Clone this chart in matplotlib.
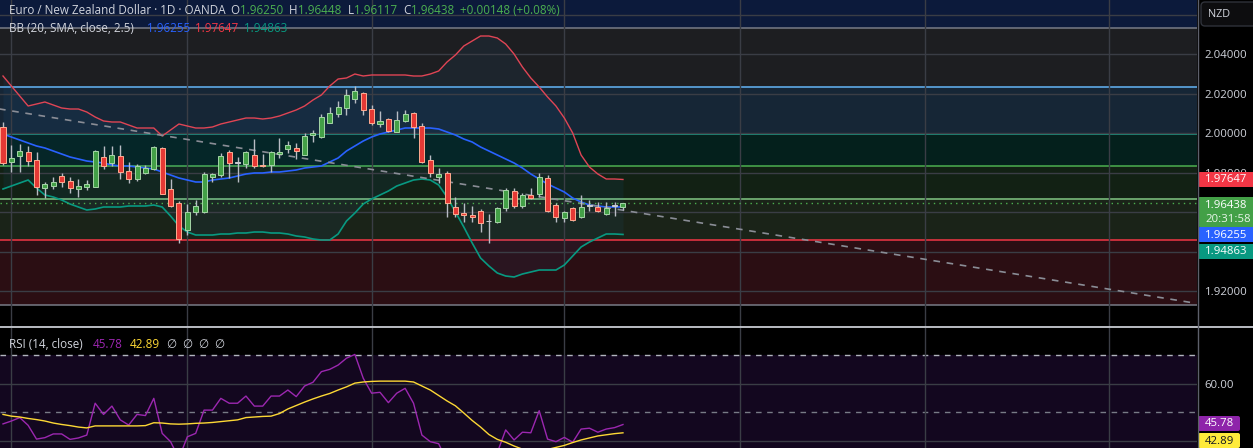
import matplotlib
matplotlib.use("Agg")
import matplotlib.pyplot as plt
from matplotlib.patches import Rectangle, FancyBboxPatch
import numpy as np

plt.rcParams['font.family'] = ['Open Sans', 'DejaVu Sans']

# ---------------- data ----------------
opens = [2.00320, 1.98548, 1.98852, 1.99055, 1.98633, 1.97198, 1.97333, 1.97806, 1.97570, 1.97148,
         1.97283, 1.97283, 1.98768, 1.98464, 1.98835, 1.98076, 1.97671, 1.97958, 1.98194, 1.99240,
         1.97165, 1.96439, 1.95089, 1.96017, 1.96000, 1.97789, 1.97873, 1.99055, 1.98490, 1.98413,
         1.98869, 1.98380, 1.98380, 1.98937, 1.99173, 1.99224, 1.98903, 1.99899, 1.99781, 2.00523,
         2.00962, 2.01283, 2.01722, 2.02042, 2.01198, 2.00473, 2.00709, 2.00068, 2.00624, 2.00996,
         2.00354, 1.98633, 1.97789, 1.97958, 1.96270, 1.95932, 1.95848, 1.96051, 1.95520, 1.95510,
         1.96186, 1.97063, 1.96321, 1.96861, 1.96894, 1.97705, 1.96354, 1.95679, 1.96186, 1.95730,
         1.96295, 1.96236, 1.95882, 1.96295, 1.96250]
highs = [2.00574, 1.99392, 1.99443, 1.99359, 1.99055, 1.97536, 1.97755, 1.97958, 1.97789, 1.97654,
         1.97620, 1.99139, 1.99342, 1.99342, 1.99376, 1.98532, 1.98413, 1.98380, 1.99342, 1.99274,
         1.97671, 1.96540, 1.96405, 1.96608, 1.98025, 1.97992, 1.99004, 1.99139, 1.98768, 1.99105,
         1.99679, 1.98937, 1.99089, 1.99730, 1.99612, 1.99511, 2.00000, 2.00152, 2.00962, 2.01333,
         2.01637, 2.02211, 2.02380, 2.02093, 2.01418, 2.01114, 2.00776, 2.01114, 2.01165, 2.01080,
         2.00523, 1.98886, 1.98211, 1.98093, 1.96776, 1.96439, 1.96321, 1.96135, 1.95899, 1.96270,
         1.97232, 1.97198, 1.96945, 1.97198, 1.97958, 1.97890, 1.96439, 1.96051, 1.96270, 1.96844,
         1.96608, 1.96523, 1.96490, 1.96523, 1.96448]
lows = [1.98380, 1.98042, 1.98042, 1.98329, 1.96861, 1.96692, 1.97165, 1.97249, 1.96945, 1.96776,
        1.97114, 1.97249, 1.98160, 1.98329, 1.97688, 1.97485, 1.97586, 1.97924, 1.98127, 1.96900,
        1.96270, 1.94447, 1.94835, 1.95848, 1.95966, 1.97536, 1.97755, 1.97738, 1.97536, 1.98211,
        1.98211, 1.98262, 1.98042, 1.98751, 1.98970, 1.98667, 1.98886, 1.99544, 1.99730, 2.00489,
        2.00793, 2.00911, 2.01536, 2.00911, 2.00405, 2.00321, 2.00068, 2.00034, 2.00540, 1.99730,
        1.98464, 1.97789, 1.97451, 1.95764, 1.95730, 1.95510, 1.95510, 1.95004, 1.94413, 1.95460,
        1.96051, 1.96186, 1.96219, 1.96675, 1.96776, 1.96017, 1.95510, 1.95510, 1.95561, 1.95679,
        1.96051, 1.96017, 1.95848, 1.95814, 1.96117]
closes = [1.98464, 1.98717, 1.99089, 1.98599, 1.97283, 1.97418, 1.97502, 1.97536, 1.97198, 1.97316,
          1.97418, 1.99089, 1.98346, 1.98886, 1.98042, 1.97688, 1.98329, 1.98211, 1.99274, 1.96928,
          1.96304, 1.94650, 1.96017, 1.96304, 1.97907, 1.97907, 1.98835, 1.98498, 1.98490, 1.99055,
          1.98346, 1.98329, 1.99038, 1.99055, 1.99392, 1.99105, 1.99848, 2.00017, 2.00793, 2.00996,
          2.01300, 2.01924, 2.02144, 2.01165, 2.00489, 2.00624, 2.00101, 2.00658, 2.00962, 2.00287,
          1.98548, 1.97992, 1.97907, 1.96473, 1.95899, 1.95831, 1.95730, 1.95426, 1.95520, 1.96186,
          1.97114, 1.96304, 1.96844, 1.96726, 1.97789, 1.96051, 1.95764, 1.95983, 1.95595, 1.96236,
          1.96295, 1.96051, 1.96219, 1.96295, 1.96438]

bb_upper = [2.02886, 2.02380, 2.01873, 2.01367, 2.01468, 2.01570, 2.01418, 2.01266, 2.01215, 2.01215,
            2.01063, 2.00810, 2.00608, 2.00557, 2.00557, 2.00405, 2.00253, 2.00253, 2.00253, 1.99848,
            2.00152, 2.00456, 2.00354, 2.00253, 2.00253, 2.00304, 2.00456, 2.00557, 2.00658, 2.00759,
            2.00759, 2.00709, 2.00759, 2.00861, 2.01013, 2.01165, 2.01367, 2.01671, 2.01924, 2.02380,
            2.02734, 2.02785, 2.02987, 2.02886, 2.02937, 2.02937, 2.02937, 2.02937, 2.02937, 2.02886,
            2.02886, 2.02987, 2.03139, 2.03595, 2.03949, 2.04405, 2.04658, 2.04911, 2.04911, 2.04810,
            2.04506, 2.04000, 2.03342, 2.02785, 2.02329, 2.01823, 2.01367, 2.00759, 2.00000, 1.98886,
            1.98278, 1.97924, 1.97671, 1.97671, 1.97647]
bb_basis = [1.99949, 1.99797, 1.99646, 1.99494, 1.99342, 1.99241, 1.99089, 1.98937, 1.98785, 1.98684,
            1.98582, 1.98532, 1.98481, 1.98380, 1.98329, 1.98329, 1.98278, 1.98228, 1.98177, 1.98025,
            1.97873, 1.97722, 1.97620, 1.97519, 1.97519, 1.97620, 1.97671, 1.97722, 1.97823, 1.97924,
            1.97975, 1.97975, 1.98025, 1.98025, 1.98076, 1.98127, 1.98228, 1.98278, 1.98329, 1.98532,
            1.98734, 1.99089, 1.99342, 1.99595, 1.99797, 1.99949, 2.00051, 2.00152, 2.00253, 2.00253,
            2.00253, 2.00253, 2.00203, 2.00051, 1.99899, 1.99696, 1.99544, 1.99291, 1.99089, 1.98886,
            1.98684, 1.98481, 1.98228, 1.97924, 1.97671, 1.97418, 1.97215, 1.97013, 1.96709, 1.96506,
            1.96354, 1.96304, 1.96253, 1.96253, 1.96255]
bb_lower = [1.97165, 1.97316, 1.97468, 1.97620, 1.97215, 1.96861, 1.96759, 1.96608, 1.96405, 1.96253,
            1.96101, 1.96152, 1.96253, 1.96253, 1.96253, 1.96304, 1.96304, 1.96304, 1.96354, 1.96253,
            1.95797, 1.95291, 1.94987, 1.94835, 1.94835, 1.94835, 1.94886, 1.94886, 1.94937, 1.94937,
            1.94987, 1.94987, 1.94937, 1.94937, 1.94886, 1.94785, 1.94734, 1.94633, 1.94582, 1.94582,
            1.94886, 1.95544, 1.95949, 1.96405, 1.96658, 1.96861, 1.97063, 1.97316, 1.97468, 1.97620,
            1.97671, 1.97620, 1.97367, 1.96759, 1.96000, 1.95241, 1.94430, 1.93671, 1.93266, 1.92911,
            1.92759, 1.92709, 1.92861, 1.92962, 1.93063, 1.93063, 1.93063, 1.93316, 1.93772, 1.94228,
            1.94481, 1.94684, 1.94886, 1.94886, 1.94863]

rsi = [46.0, 47.0, 48.2, 45.5, 40.7, 41.2, 42.5, 42.5, 40.6, 41.1,
       42.1, 53.2, 49.3, 52.2, 47.4, 45.6, 49.3, 48.9, 54.9, 42.7,
       39.8, 34.0, 41.5, 42.7, 50.8, 50.8, 54.9, 53.2, 53.2, 55.7,
       52.2, 52.2, 55.7, 55.7, 57.8, 55.5, 59.2, 60.5, 64.2, 65.0,
       66.5, 68.9, 70.2, 61.9, 56.7, 57.0, 53.4, 56.7, 58.4, 53.2,
       42.1, 39.8, 39.1, 33.0, 31.5, 31.0, 30.5, 29.0, 29.0, 36.0,
       43.9, 40.4, 43.1, 42.9, 50.6, 40.7, 39.8, 41.3, 39.6, 44.2,
       44.5, 43.1, 44.2, 44.7, 45.78]
rsi_ma = [49.3, 48.7, 48.4, 47.9, 47.5, 47.0, 46.3, 45.8, 45.4, 44.9,
          44.6, 45.3, 45.3, 45.3, 45.3, 45.3, 45.3, 45.4, 46.4, 46.3,
          46.0, 45.9, 46.0, 46.2, 46.3, 46.5, 46.8, 47.1, 47.4, 48.2,
          48.4, 48.6, 48.7, 49.6, 51.2, 52.4, 53.6, 54.7, 55.7, 56.6,
          57.8, 58.9, 60.2, 60.6, 60.8, 60.9, 60.9, 60.9, 60.9, 60.6,
          59.2, 57.8, 55.9, 54.0, 52.3, 49.8, 47.2, 44.9, 42.3, 40.6,
          39.6, 38.3, 37.2, 36.9, 36.9, 37.1, 37.8, 38.5, 39.5, 40.4,
          41.1, 41.8, 42.2, 42.6, 42.89]

fib_low, fib_high = 1.9129, 2.0532
fib_ratios = [0.0, 0.236, 0.382, 0.5, 0.618, 0.786, 1.0, 1.618]
fib_line_colors = ['#787b86', '#f23645', '#81c784', '#4caf50', '#22ab94', '#64b5f6', '#787b86', '#2962ff']
fib_zone_colors = ['#2b0e13', '#1a2318', '#122114', '#04201c', '#162636', '#1d1e21', '#0c1a3b']

trend_x = [-0.6, 142.2]
trend_y = [2.0123, 1.9139]

price_ticks = [1.92, 1.94, 1.96, 1.98, 2.00, 2.02, 2.04, 2.06]
price_labels = ["1.92000", "", "", "1.98000", "2.00000", "2.02000", "2.04000", ""]
rsi_ticks = [40, 60]
rsi_labels = ["", "60.00"]
month_idx = [1, 22, 44, 67, 88, 110, 132]

last_close = 1.96438
header_vals = ["1.96250", "1.96448", "1.96117", "1.96438"]
change_txt = "+0.00148 (+0.08%)"
bb_vals = ["1.96255", "1.97647", "1.94863"]
rsi_vals = ["45.78", "42.89"]

# ---------------- figure ----------------
W, H = 1253, 448
fig = plt.figure(figsize=(W / 100, H / 100), dpi=100, facecolor='black')
PW = 1197
ax = fig.add_axes([0, 121 / H, PW / W, 327 / H])
rax = fig.add_axes([0, 0, PW / W, 120 / H])

xl = (-3 / 8.378, (PW - 3) / 8.378)
for a in (ax, rax):
    a.set_facecolor('black')
    a.set_xlim(*xl)
    for s in a.spines.values():
        s.set_visible(False)
    a.set_xticks(month_idx)
    a.tick_params(axis='x', length=0, labelbottom=False)
    a.grid(axis='x', color='#3a3d45', lw=1, zorder=0.5)

ax.set_ylim(2.00 - 194 / 1975, 2.00 + 133 / 1975)
rax.set_ylim(37.6, 79.41)

# fib zones and lines
lv = [fib_low + r * (fib_high - fib_low) for r in fib_ratios]
for k in range(len(lv) - 1):
    ax.axhspan(lv[k], lv[k + 1], color=fib_zone_colors[k], lw=0, zorder=0.2)
for k in range(len(lv)):
    ax.axhline(lv[k], color=fib_line_colors[k], lw=1.1, zorder=1)

# price grid / ticks
ax.yaxis.tick_right()
ax.set_yticks(price_ticks)
ax.set_yticklabels(price_labels)
ax.tick_params(axis='y', length=0, pad=5.5, labelsize=8.2, labelcolor='#d1d4dc')
ax.grid(axis='y', color='#3a3d45', lw=1, zorder=0.5)

x = np.arange(len(closes))
# Bollinger bands
ax.fill_between(x, bb_lower, bb_upper, color='#2196f3', alpha=0.06, lw=0, zorder=1.5)
ax.plot(x, bb_upper, color='#e04555', lw=1.0, zorder=2)
ax.plot(x, bb_basis, color='#2962ff', lw=1.2, zorder=2)
ax.plot(x, bb_lower, color='#089981', lw=1.2, zorder=2)

# trend line
ax.plot(trend_x, trend_y, color='#8a8d96', lw=1.2, ls=(0, (4, 4)), zorder=2.5)
# current price line
ax.axhline(last_close, color='#4caf50', lw=1, ls=(0, (1, 3)), zorder=2.6)

# candles
for i in x:
    o, h, l, c = opens[i], highs[i], lows[i], closes[i]
    if abs(c - o) < 0.0001:
        fc, ec = '#c8cbd2', '#c8cbd2'
    elif c > o:
        fc, ec = '#43a047', '#a5d6a7'
    else:
        fc, ec = '#e53935', '#ffab91'
    ax.vlines(i, l, h, color='#b8bcc4', lw=1, zorder=3)
    bh = max(abs(c - o), 0.0004)
    ax.add_patch(Rectangle((i - 0.3, min(o, c)), 0.6, bh, fc=fc, ec=ec, lw=0.7, zorder=4))

# RSI pane
rax.axhspan(30, 70, color='#13071f', lw=0, zorder=0.2)
rax.yaxis.tick_right()
rax.set_yticks(rsi_ticks)
rax.set_yticklabels(rsi_labels)
rax.tick_params(axis='y', length=0, pad=5.5, labelsize=8.2, labelcolor='#d1d4dc')
rax.grid(axis='y', color='#3a3d45', lw=1, zorder=0.5)
rax.axhline(70, color='#b2b5be', lw=1, ls=(0, (4, 4)), zorder=1)
rax.axhline(50, color='#787b86', lw=1, ls=(0, (4, 4)), zorder=1)
rax.plot(x, rsi, color='#9c27b0', lw=1.0, zorder=3)
rax.plot(x, rsi_ma, color='#fdd835', lw=1.0, zorder=3)

# ---------------- overlay (pixel coordinates) ----------------
ov = fig.add_axes([0, 0, 1, 1])
ov.set_xlim(0, W)
ov.set_ylim(H, 0)
ov.axis('off')
ov.patch.set_alpha(0)

LIGHT = '#d1d4dc'
GREEN = '#4caf50'
HS = 8.4


def T(px, py, s, col, size=HS, ha='left'):
    ov.text(px, py, s, color=col, fontsize=size, ha=ha, va='center')


# separators
ov.plot([0, W], [327.5, 327.5], color='#c8cbd2', lw=1.3)
ov.plot([PW + 0.5, PW + 0.5], [0, H], color='#5d606b', lw=1)

# header line 1
T(9, 11, "Euro / New Zealand Dollar · 1D · OANDA", LIGHT)
for lab, vx, val in zip("OHLC", [240, 298, 354, 411], header_vals):
    T(vx - 0.3, 11, lab, LIGHT, ha='right')
    T(vx, 11, val, GREEN)
T(460, 11, change_txt, GREEN)
# header line 2
T(9, 29, "BB (20, SMA, close, 2.5)", LIGHT)
for px, val, col in zip([147, 195, 244], bb_vals, ['#2962ff', '#f23645', '#089981']):
    T(px, 29, val, col)
# RSI header
T(9, 344, "RSI (14, close)", LIGHT)
T(93, 344, rsi_vals[0], '#9c27b0')
T(130, 344, rsi_vals[1], '#fdd835')
for px in [166, 182, 198, 214]:
    T(px, 344, "∅", LIGHT)

# NZD box
ov.add_patch(FancyBboxPatch((1201, 2), 60, 24, boxstyle="round,pad=0,rounding_size=4",
                            fc='#0d0d0f', ec='#2f323a', lw=1))
T(1208, 14.5, "NZD", LIGHT, size=7.8)

# price badges
badges = [(172, 187, '#f23645', [(bb_vals[1], 'white')]),
          (197, 227, '#43a047', [(header_vals[3], 'white'), ("20:31:58", '#e8f5e9')]),
          (227, 242, '#2962ff', [(bb_vals[0], 'white')]),
          (244, 259, '#089981', [(bb_vals[2], 'white')]),
          (416, 431, '#8e24aa', [(rsi_vals[0], 'white')]),
          (433, 448, '#ffeb3b', [(rsi_vals[1], '#131722')])]
for y0, y1, col, lines in badges:
    right = W + 5 if y0 < 400 else 1240
    ov.add_patch(FancyBboxPatch((PW + 1, y0), right - PW - 1, y1 - y0,
                                boxstyle="round,pad=0,rounding_size=2", fc=col, ec='none'))
    n = len(lines)
    for k, (s, tc) in enumerate(lines):
        yy = y0 + (y1 - y0) * (k + 0.5) / n
        T(1205, yy + 0.5, s, tc, size=8.2)

fig.savefig("out.png", dpi=100, facecolor='black')
